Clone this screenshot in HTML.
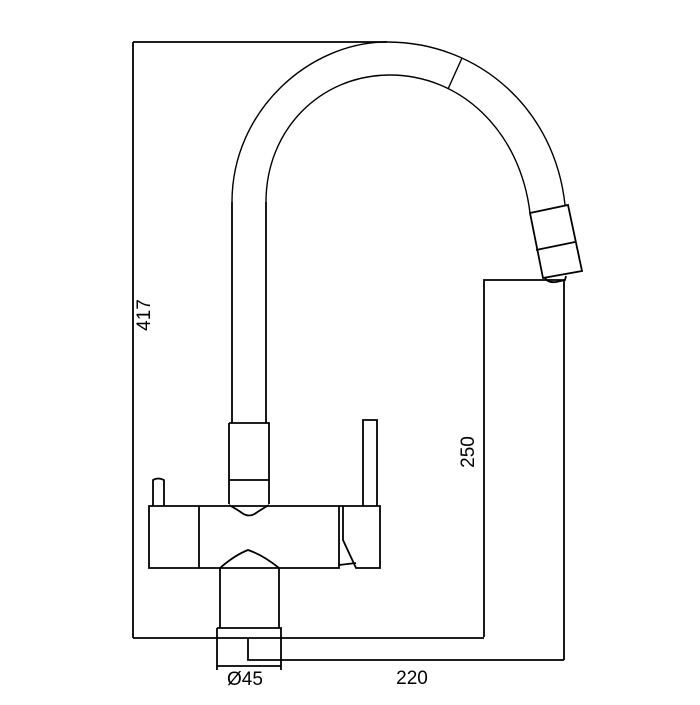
<!DOCTYPE html>
<html><head><style>body{margin:0;background:#fff}</style></head><body>
<svg width="700" height="700" viewBox="0 0 700 700" xmlns="http://www.w3.org/2000/svg" fill="none" stroke="#000" stroke-width="1.8">
<!-- dimension lines -->
<path d="M133 42 H387 M133 42 V638 M133 638 H484 M484 637 V280 H565 M564 280 V660 M248 638 V660 H564"/>
<text x="150" y="315" transform="rotate(-90 150 315)" font-family="Liberation Sans, sans-serif" font-size="19" fill="#000" stroke="none" text-anchor="middle">417</text>
<text x="474" y="452" transform="rotate(-90 474 452)" font-family="Liberation Sans, sans-serif" font-size="19" fill="#000" stroke="none" text-anchor="middle">250</text>
<text x="245" y="685" font-family="Liberation Sans, sans-serif" font-size="19" fill="#000" stroke="none" text-anchor="middle">Ø45</text>
<text x="412" y="684" font-family="Liberation Sans, sans-serif" font-size="19" fill="#000" stroke="none" text-anchor="middle">220</text>
<!-- spout arc -->
<path d="M232 202 C232 110 310 42 387 42 C480 42 555 110 565 205" stroke-width="1.4"/>
<path d="M266 202 C266 130 320 75 390 75 C460 75 520 130 530 213" stroke-width="1.4"/>
<path d="M462 58 L448 89" stroke-width="1.4"/>
<!-- nozzle -->
<path d="M530 213 L568 205 L582 271 L543 278 Z M536 250 L575 242"/>
<path d="M545 278 Q548 283 556 282 L565 280 L566 276"/>
<!-- vertical pipe -->
<path d="M232 202 V423 M266 202 V423"/>
<!-- collar -->
<path d="M229 423 H269 V504 M229 423 V504 M229 480 H269"/>
<path d="M229 505 Q238 510 242 513 Q249 518 256 513 Q262 509 269 505"/>
<!-- left knob -->
<path d="M153 506 V480 Q158 477 164 480 V506"/>
<!-- body -->
<path d="M149 506 H339 V568 H149 Z M199 506 V568"/>
<!-- right part -->
<path d="M343 506 H380 V568 H356 L343 540 Z M339 506 L343 506 M339 565 L356 563"/>
<path d="M363 506 V420 H377 V506"/>
<!-- lower stem -->
<path d="M220 568 Q235 555 248 550 Q263 555 279 568"/>
<path d="M220 568 V628 M279 568 V628"/>
<!-- base -->
<path d="M217 628 H281 V670 M217 628 V670 M217 666 H281"/>
</svg>
</body></html>
